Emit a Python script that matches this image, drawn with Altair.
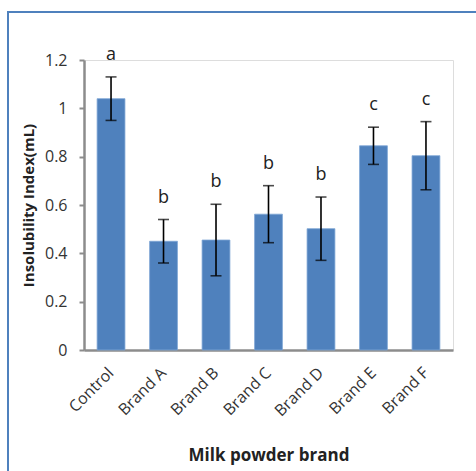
import altair as alt
import pandas as pd

# Insolubility index per milk powder brand, with standard deviation and significance letters
brands = ["Control", "Brand A", "Brand B", "Brand C", "Brand D", "Brand E", "Brand F"]
means = [1.04, 0.45, 0.455, 0.562, 0.502, 0.845, 0.804]
errors = [0.09, 0.09, 0.148, 0.118, 0.131, 0.077, 0.141]
letters = ["a", "b", "b", "b", "b", "c", "c"]

df = pd.DataFrame({"brand": brands, "mean": means, "err": errors, "letter": letters})
df["lo"] = df["mean"] - df["err"]
df["hi"] = df["mean"] + df["err"]

FONT = "Open Sans"
BLUE = "#4F81BD"

x_enc = alt.X(
    "brand:N",
    sort=brands,
    scale=alt.Scale(paddingInner=0.47, paddingOuter=0.25),
    axis=alt.Axis(
        title="Milk powder brand",
        labelAngle=-45,
        labelAlign="right",
        labelBaseline="middle",
        labelFontSize=16,
        labelColor="#333333",
        labelPadding=20,
        ticks=False,
        domainColor="#8c8c8c",
        domainWidth=2.5,
        titleFontSize=17,
        titleFontWeight="bold",
        titleColor="#222222",
        titlePadding=29,
    ),
)

y_scale = alt.Scale(domain=[0, 1.2], nice=False)
y_axis = alt.Axis(
    title="Insolubility  Index(mL)",
    values=[0, 0.2, 0.4, 0.6, 0.8, 1.0, 1.2],
    labelExpr="datum.value == 0 ? '0' : datum.value == 1 ? '1' : format(datum.value, '.1f')",
    grid=False,
    labelFontSize=16,
    labelColor="#333333",
    tickColor="#8c8c8c",
    tickSize=5,
    tickWidth=2,
    domainColor="#8c8c8c",
    domainWidth=2.5,
    labelPadding=12,
    titleFontSize=15,
    titleFontWeight="bold",
    titleColor="#222222",
    titlePadding=8,
)

base = alt.Chart(df)

bars = base.mark_bar(color=BLUE, stroke="#7ea6d6", strokeWidth=0.8).encode(
    x=x_enc,
    y=alt.Y("mean:Q", scale=y_scale, axis=y_axis),
)

stems = base.mark_rule(color="black", strokeWidth=1.6).encode(
    x=alt.X("brand:N", sort=brands),
    y="lo:Q",
    y2="hi:Q",
)

caps_hi = base.mark_tick(color="black", thickness=1.6, size=11, orient="horizontal").encode(
    x=alt.X("brand:N", sort=brands),
    y="hi:Q",
)
caps_lo = base.mark_tick(color="black", thickness=1.6, size=11, orient="horizontal").encode(
    x=alt.X("brand:N", sort=brands),
    y="lo:Q",
)

labels = base.mark_text(font=FONT, fontSize=18, color="#222222", dy=-22, baseline="middle").encode(
    x=alt.X("brand:N", sort=brands),
    y="hi:Q",
    text="letter:N",
)

# outer frame around the figure
frame = alt.Chart(pd.DataFrame({"k": [0]})).mark_rect(
    fill=None, stroke=BLUE, strokeWidth=2
).encode(
    x=alt.value(-76), x2=alt.value(402), y=alt.value(-48), y2=alt.value(421)
)

chart = (
    alt.layer(frame, bars, stems, caps_hi, caps_lo, labels)
    .properties(
        width=369,
        height=290,
        autosize=alt.AutoSizeParams(type="none"),
        padding={"left": 84, "top": 60, "right": 23, "bottom": 121},
    )
    .configure_view(stroke=None)
    .configure(font=FONT, background="white")
)

chart.save("out.html", embed_options={"renderer": "svg", "actions": False})
